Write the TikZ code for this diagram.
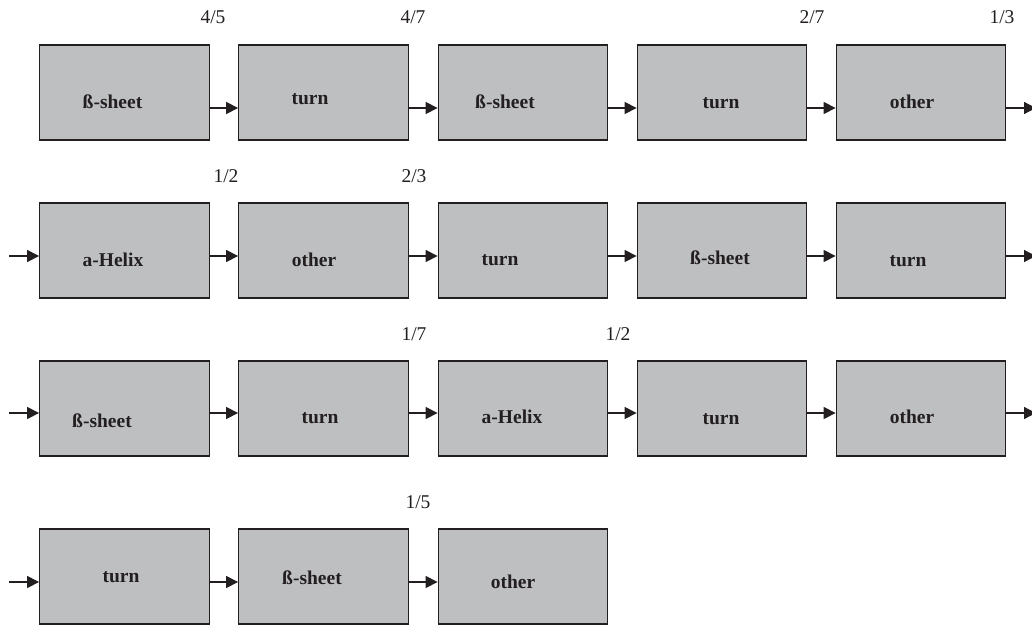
\documentclass[tikz,border=0pt]{standalone}
\usepackage{fontspec}
\setmainfont{Liberation Serif}
\usetikzlibrary{arrows.meta}
\definecolor{boxgray}{RGB}{190,191,193}
\definecolor{ink}{RGB}{35,31,32}
\begin{document}
\begin{tikzpicture}[x=1pt,y=-1pt,
  unit/.style={draw=ink, line width=1.3pt, fill=boxgray,
    minimum width=169.5pt, minimum height=95pt, inner sep=0pt},
  word/.style={font=\bfseries\fontsize{19.5}{20}\selectfont, text=ink,
    anchor=base, inner sep=0pt},
  prob/.style={font=\fontsize{19.5}{20}\selectfont, text=ink,
    anchor=base, inner sep=0pt},
  arr/.style={draw=ink, line width=1.2pt, -{Triangle[length=12pt,width=12pt]}}]

\clip (0,0) rectangle (1032,626);
\fill[white] (0,0) rectangle (1032,626);

% ---- boxes ----
\node[unit] (b11) at (124.5,92.5) {};
\node[unit] (b12) at (323.5,92.5) {};
\node[unit] (b13) at (523,92.5) {};
\node[unit] (b14) at (722,92.5) {};
\node[unit] (b15) at (921,92.5) {};

\node[unit] (b21) at (124.5,250.5) {};
\node[unit] (b22) at (323.5,250.5) {};
\node[unit] (b23) at (523,250.5) {};
\node[unit] (b24) at (722,250.5) {};
\node[unit] (b25) at (921,250.5) {};

\node[unit] (b31) at (124.5,408.5) {};
\node[unit] (b32) at (323.5,408.5) {};
\node[unit] (b33) at (523,408.5) {};
\node[unit] (b34) at (722,408.5) {};
\node[unit] (b35) at (921,408.5) {};

\node[unit] (b41) at (124.5,576.5) {};
\node[unit] (b42) at (323.5,576.5) {};
\node[unit] (b43) at (523,576.5) {};

% ---- box texts ----
\node[word] (t11) at (112.5,108) {ß-sheet};
\node[word] (t12) at (310,104) {turn};
\node[word] (t13) at (505,108) {ß-sheet};
\node[word] (t14) at (721,108) {turn};
\node[word] (t15) at (912,108) {other};

\node[word] (t21) at (113,266) {a-Helix};
\node[word] (t22) at (314,266) {other};
\node[word] (t23) at (500,265) {turn};
\node[word] (t24) at (720,264) {ß-sheet};
\node[word] (t25) at (908,266) {turn};

\node[word] (t31) at (102,427) {ß-sheet};
\node[word] (t32) at (320,423) {turn};
\node[word] (t33) at (512,423) {a-Helix};
\node[word] (t34) at (721,424) {turn};
\node[word] (t35) at (912,423) {other};

\node[word] (t41) at (121,582) {turn};
\node[word] (t42) at (312,584) {ß-sheet};
\node[word] (t43) at (513,588) {other};

% ---- fractions ----
\node[prob] (p1) at (213,24) {4/5};
\node[prob] (p2) at (413,24) {4/7};
\node[prob] (p3) at (812,24) {2/7};
\node[prob] (p4) at (1002,24) {1/3};
\node[prob] (p5) at (226,182) {1/2};
\node[prob] (p6) at (414,182) {2/3};
\node[prob] (p7) at (414,340) {1/7};
\node[prob] (p8) at (618,340) {1/2};
\node[prob] (p9) at (418,508) {1/5};

% ---- free arrow ends ----
\coordinate (o1) at (1036,108);
\coordinate (o2) at (1036,256);
\coordinate (o3) at (1036,413);
\coordinate (i2) at (9,256);
\coordinate (i3) at (9,413);
\coordinate (i4) at (9,582);

% ---- connectors ----
\draw[arr] ([yshift=-15.5pt]b11.east) -- ([yshift=-15.5pt]b12.west);
\draw[arr] ([yshift=-15.5pt]b12.east) -- ([yshift=-15.5pt]b13.west);
\draw[arr] ([yshift=-15.5pt]b13.east) -- ([yshift=-15.5pt]b14.west);
\draw[arr] ([yshift=-15.5pt]b14.east) -- ([yshift=-15.5pt]b15.west);
\draw[arr] ([yshift=-15.5pt]b15.east) -- (o1);

\draw[arr] (i2) -- (b21.west |- i2);
\draw[arr] ([yshift=-5.5pt]b21.east) -- ([yshift=-5.5pt]b22.west);
\draw[arr] ([yshift=-5.5pt]b22.east) -- ([yshift=-5.5pt]b23.west);
\draw[arr] ([yshift=-5.5pt]b23.east) -- ([yshift=-5.5pt]b24.west);
\draw[arr] ([yshift=-5.5pt]b24.east) -- ([yshift=-5.5pt]b25.west);
\draw[arr] ([yshift=-5.5pt]b25.east) -- (o2);

\draw[arr] (i3) -- (b31.west |- i3);
\draw[arr] ([yshift=-4.5pt]b31.east) -- ([yshift=-4.5pt]b32.west);
\draw[arr] ([yshift=-4.5pt]b32.east) -- ([yshift=-4.5pt]b33.west);
\draw[arr] ([yshift=-4.5pt]b33.east) -- ([yshift=-4.5pt]b34.west);
\draw[arr] ([yshift=-4.5pt]b34.east) -- ([yshift=-4.5pt]b35.west);
\draw[arr] ([yshift=-4.5pt]b35.east) -- (o3);

\draw[arr] (i4) -- (b41.west |- i4);
\draw[arr] ([yshift=-5.5pt]b41.east) -- ([yshift=-5.5pt]b42.west);
\draw[arr] ([yshift=-5.5pt]b42.east) -- ([yshift=-5.5pt]b43.west);
\end{tikzpicture}
\end{document}
